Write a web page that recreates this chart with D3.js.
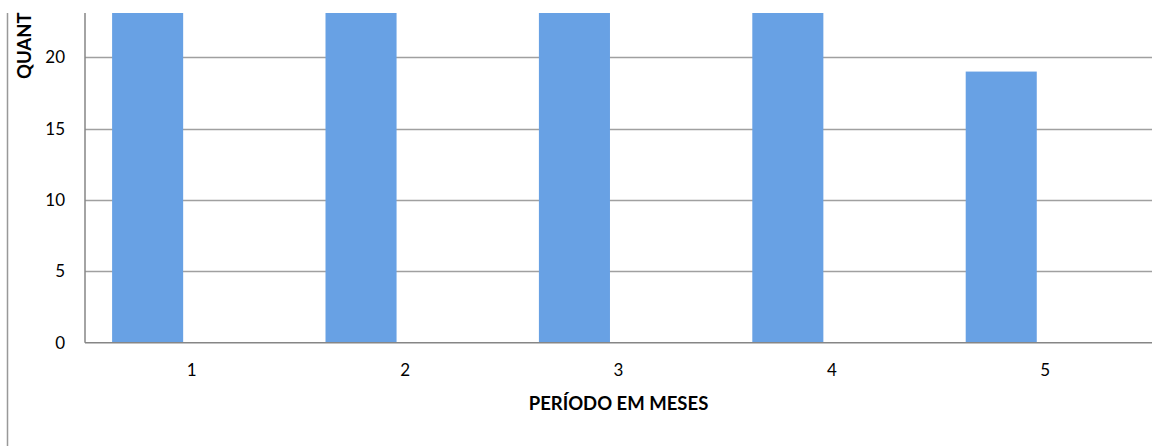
<!DOCTYPE html>
<html><head><meta charset="utf-8">
<script src="https://cdn.jsdelivr.net/npm/d3@7"></script>
<style>body{margin:0;background:#fff}svg{display:block}text{font-family:Lato,"Open Sans",sans-serif}</style>
</head><body>
<svg id="c" width="1153" height="446"></svg>
<script>
const categories = ["1","2","3","4","5"];
const seriesNames = ["s1","s2"];
const seriesA = [25, 25, 25, 25, 19];
const seriesB = [0, 0, 0, 0, 0];
const yTicks = [0, 5, 10, 15, 20];
const xTitle = "PERÍODO EM MESES";
const yTitle = "QUANT";

const svg = d3.select("#c");
const L = 85, R = 1152, T = 13, B = 342.7;
const x = d3.scaleBand().domain(categories).range([L, R]).padding(0);
const bw = x.bandwidth();
const x1 = d3.scaleBand().domain(seriesNames).range([0.127*bw, 0.127*bw + 0.666*bw]).padding(0);
const y = d3.scaleLinear().domain([0, 20]).range([B, 57.3]);

svg.append("defs").append("clipPath").attr("id","clip")
  .append("rect").attr("x", L).attr("y", T).attr("width", R-L).attr("height", B-T);

// outer left line
svg.append("line").attr("x1",7.5).attr("x2",7.5).attr("y1",T).attr("y2",446)
  .attr("stroke","#999").attr("stroke-width",1.5);

// gridlines
svg.append("g").selectAll("line").data(yTicks.filter(d=>d>0)).join("line")
  .attr("x1", L).attr("x2", R).attr("y1", d=>Math.round(y(d))+0.5).attr("y2", d=>Math.round(y(d))+0.5)
  .attr("stroke","#a0a0a0").attr("stroke-width",1.5);

// bars
const data = categories.map((c,i)=>({c, vals:[{s:"s1",v:seriesA[i]},{s:"s2",v:seriesB[i]}]}));
const g = svg.append("g").attr("clip-path","url(#clip)");
g.selectAll("g").data(data).join("g").attr("transform", d=>`translate(${x(d.c)},0)`)
  .selectAll("rect").data(d=>d.vals.filter(v=>v.v>0)).join("rect")
  .attr("x", d=>x1(d.s)).attr("width", x1.bandwidth())
  .attr("y", d=>y(d.v)).attr("height", d=>B - y(d.v))
  .attr("fill","#68a1e4");

// axes lines
svg.append("line").attr("x1",L).attr("x2",L).attr("y1",T).attr("y2",B)
  .attr("stroke","#868686").attr("stroke-width",1.5);
svg.append("line").attr("x1",L).attr("x2",R).attr("y1",B).attr("y2",B)
  .attr("stroke","#868686").attr("stroke-width",1.5);

// y tick labels
svg.append("g").selectAll("text").data(yTicks).join("text")
  .attr("x", 65).attr("y", d=>y(d)).attr("dy","0.35em").attr("text-anchor","end")
  .attr("font-size",17).attr("fill","#000").text(d=>d);

// x tick labels
svg.append("g").selectAll("text").data(categories).join("text")
  .attr("x", d=>x(d)+bw/2).attr("y", 370).attr("dy","0.35em").attr("text-anchor","middle")
  .attr("font-size",17).attr("fill","#000").text(d=>d);

// titles
svg.append("text").attr("x", 618.5).attr("y", 410).attr("text-anchor","middle")
  .attr("font-size",18.5).attr("font-weight","bold").text(xTitle);
svg.append("text").attr("transform","translate(31,79) rotate(-90)").attr("text-anchor","start")
  .attr("font-size",18.5).attr("font-weight","bold").text(yTitle);
</script>
</body></html>
